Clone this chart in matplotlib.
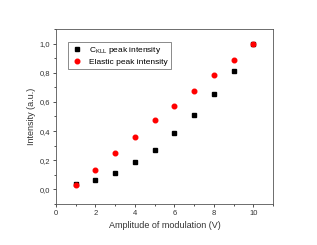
import matplotlib
matplotlib.use("Agg")
import matplotlib.pyplot as plt
from matplotlib.ticker import MultipleLocator, FuncFormatter

x = [1, 2, 3, 4, 5, 6, 7, 8, 9, 10]
ckll = [0.036, 0.064, 0.116, 0.189, 0.269, 0.390, 0.513, 0.654, 0.813, 1.0]
elastic = [0.032, 0.134, 0.248, 0.362, 0.478, 0.569, 0.677, 0.784, 0.886, 1.0]

plt.rcParams['font.family'] = ['Liberation Sans', 'DejaVu Sans']
plt.rcParams['mathtext.fontset'] = 'custom'
plt.rcParams['mathtext.rm'] = 'Liberation Sans'

fig = plt.figure(figsize=(3.17, 2.45), dpi=100)
ax = fig.add_axes([56/317, 1-204/245, (273-56)/317, (204-29)/245])

ax.plot(x, ckll, 's', color='black', markersize=2.7, label=r'C$_{\mathrm{KLL}}$ peak intensity')
ax.plot(x, elastic, 'o', color='red', markersize=3.3, label='Elastic peak intensity')

ax.set_xlim(0, 11)
ax.set_ylim(-0.1, 1.1)
ax.xaxis.set_major_locator(MultipleLocator(2))
ax.xaxis.set_minor_locator(MultipleLocator(1))
ax.yaxis.set_major_locator(MultipleLocator(0.2))
ax.yaxis.set_minor_locator(MultipleLocator(0.1))
ax.yaxis.set_major_formatter(FuncFormatter(lambda v, p: f"{v:.1f}".replace('.', ',').replace('-0,0', '0,0')))
ax.tick_params(which='both', direction='out', labelsize=5.5, colors='#333333', width=0.6)
ax.tick_params(which='major', length=2.5, pad=1.5)
ax.tick_params(which='minor', length=1.5)
for s in ax.spines.values():
    s.set_linewidth(0.6)
    s.set_color('#555555')

ax.set_xlabel('Amplitude of modulation (V)', fontsize=6.5, color='#333333', labelpad=3)
ax.set_ylabel('Intensity (a.u.)', fontsize=6.5, color='#333333', labelpad=3)

leg = ax.legend(loc='upper left', bbox_to_anchor=(0.055, 0.926), fontsize=6, frameon=True,
                fancybox=False, edgecolor='#555555', handletextpad=0.7, borderpad=0.35,
                handlelength=1.5, labelspacing=0.3, borderaxespad=0)
leg.get_frame().set_linewidth(0.6)

fig.savefig('out.png', dpi=100)
